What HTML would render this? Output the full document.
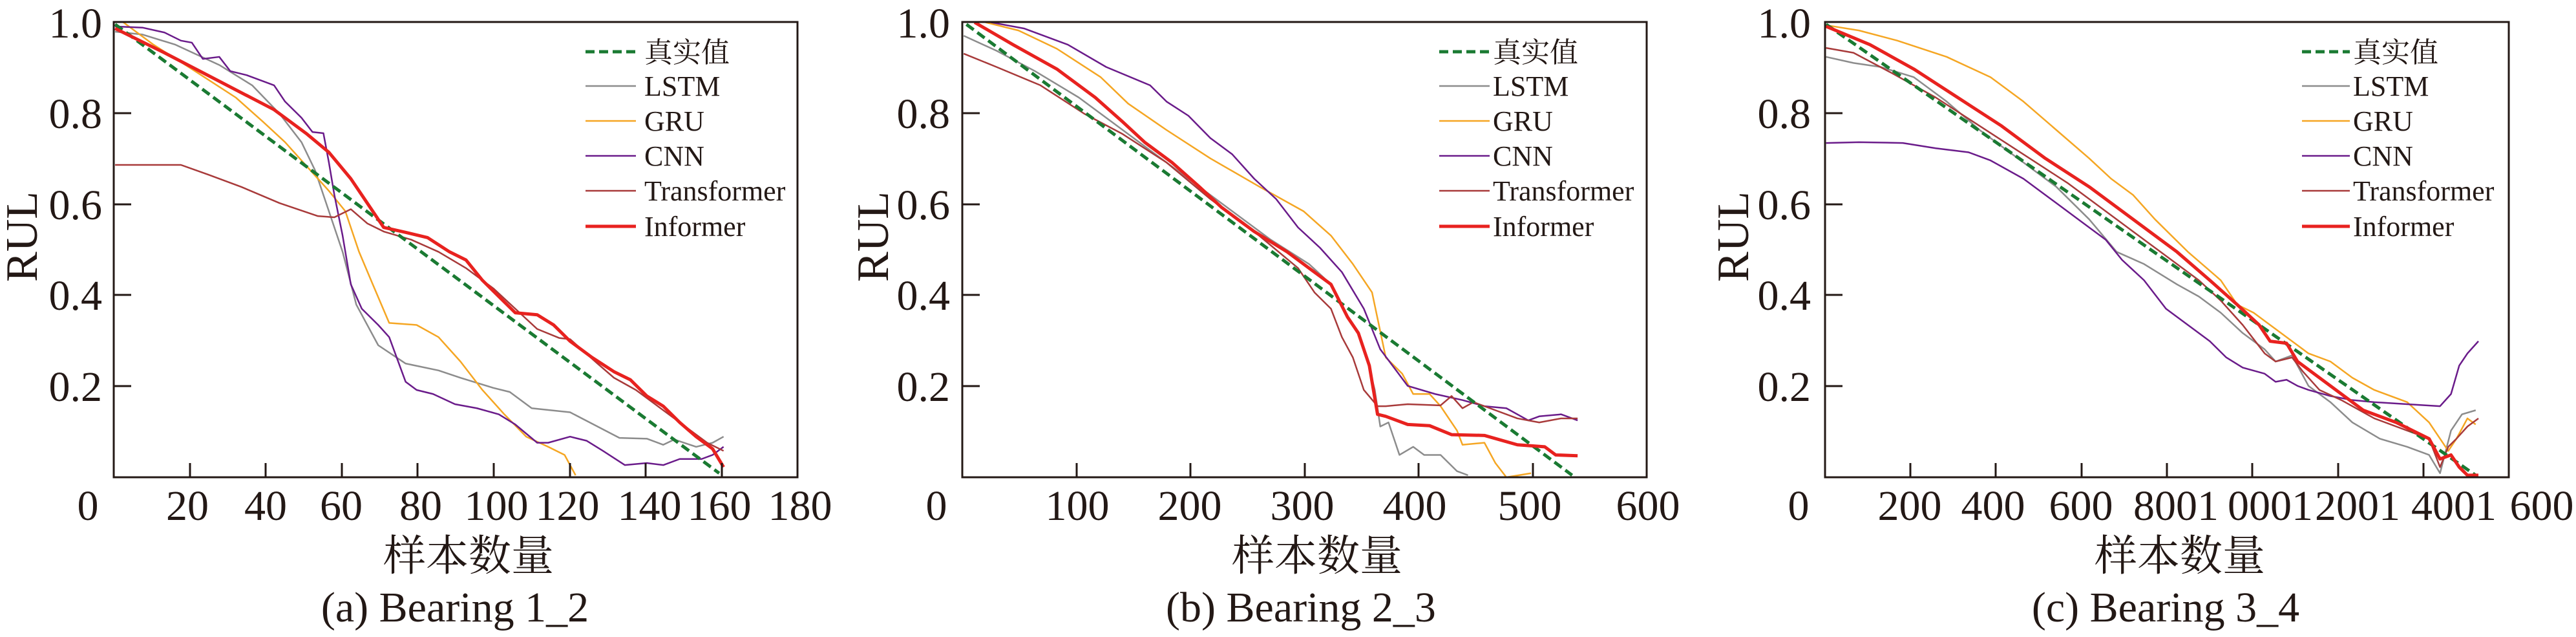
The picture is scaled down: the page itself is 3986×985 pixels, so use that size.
<!DOCTYPE html>
<html><head><meta charset="utf-8"><style>
html,body{margin:0;padding:0;background:#fff;}
svg{display:block;}
text{font-family:"Liberation Serif","Noto Serif CJK SC","Noto Sans CJK SC",serif;fill:#231815;}
.t{font-size:66px;}
.lg{font-size:44px;}
.ln{fill:none;vector-effect:non-scaling-stroke;stroke-linejoin:round;}
.g{stroke:#1a7a32;stroke-width:5;stroke-dasharray:14 7;}
.ls{stroke:#8c8c8c;stroke-width:2.5;}
.gr{stroke:#f5a623;stroke-width:2.5;}
.cn{stroke:#6a1b8a;stroke-width:2.5;}
.tr{stroke:#a83a3a;stroke-width:2.5;}
.inf{stroke:#e8221f;stroke-width:5;}
.ax{fill:none;stroke:#231815;stroke-width:3;}
</style></head><body>
<svg width="3986" height="985" viewBox="0 0 3986 985" xmlns="http://www.w3.org/2000/svg">

<!-- Panel A -->
<g transform="translate(0,0) scale(0.8482,0.6281)">
<polyline class="ln ls" points="210,78 260,85 320,110 400,160 460,210 510,280 550,350 575,420 600,520 625,620 650,750 690,850 740,895 800,912 840,930 900,955 930,965 970,1005 1040,1015 1090,1050 1130,1078 1180,1080 1210,1095 1230,1082 1270,1100 1300,1090 1320,1075"/>
<polyline class="ln gr" points="225,55 280,110 350,170 430,240 480,300 520,350 560,410 600,470 630,520 655,620 680,700 710,795 760,800 800,830 840,890 880,960 920,1020 960,1075 1000,1100 1030,1120 1050,1170"/>
<polyline class="ln cn" points="210,65 260,68 300,80 330,100 350,105 370,145 400,140 420,175 450,185 500,210 520,250 550,290 570,325 590,328 600,400 610,480 625,580 640,700 660,760 690,800 710,830 740,940 760,960 790,970 830,995 870,1005 910,1020 940,1045 980,1090 1000,1090 1040,1075 1070,1085 1100,1110 1140,1145 1180,1140 1210,1145 1240,1130 1280,1130 1300,1120 1320,1100"/>
<polyline class="ln tr" points="210,406 330,406 380,430 440,460 510,500 580,532 610,535 640,515 670,550 700,570 750,590 800,620 850,660 900,710 940,760 980,810 1020,832 1040,835 1090,895 1120,930 1160,960 1200,1000 1250,1050 1290,1090 1320,1110"/>
<polyline class="ln g" points="210,60 1312,1165"/>
<polyline class="ln inf" points="210,70 300,130 400,200 500,270 560,330 600,375 640,440 670,500 700,560 740,572 780,585 820,620 850,640 880,690 910,730 940,770 980,775 1010,800 1040,840 1080,880 1120,915 1150,935 1180,975 1210,1000 1240,1040 1270,1075 1300,1105 1320,1150"/>
</g>
<rect class="ax" x="176" y="34" width="1058" height="704"/>
<g stroke="#231815" stroke-width="3">
<line x1="176" y1="175" x2="203" y2="175"/><line x1="176" y1="316" x2="203" y2="316"/><line x1="176" y1="456" x2="203" y2="456"/><line x1="176" y1="597" x2="203" y2="597"/>
<line x1="294" y1="738" x2="294" y2="716"/><line x1="411" y1="738" x2="411" y2="716"/><line x1="529" y1="738" x2="529" y2="716"/><line x1="646" y1="738" x2="646" y2="716"/><line x1="764" y1="738" x2="764" y2="716"/><line x1="882" y1="738" x2="882" y2="716"/><line x1="999" y1="738" x2="999" y2="716"/><line x1="1117" y1="738" x2="1117" y2="716"/>
</g>
<g class="t" text-anchor="end"><text x="158" y="58">1.0</text><text x="158" y="198">0.8</text><text x="158" y="339">0.6</text><text x="158" y="479">0.4</text><text x="158" y="620">0.2</text></g>
<g class="t" text-anchor="middle"><text x="136" y="804">0</text><text x="290" y="804">20</text><text x="411" y="804">40</text><text x="528" y="804">60</text><text x="651" y="804">80</text><text x="768" y="804">100</text><text x="878" y="804">120</text><text x="1005" y="804">140</text><text x="1113" y="804">160</text><text x="1238" y="804">180</text>
<text x="725" y="882">样本数量</text><text x="704" y="961">(a) Bearing 1_2</text></g>
<text class="t" text-anchor="middle" transform="translate(57,366) rotate(-90)" style="font-size:70px">RUL</text>
<g>
<line x1="906" y1="80" x2="984" y2="80" stroke="#1a7a32" stroke-width="5" stroke-dasharray="14 7"/>
<line x1="906" y1="133" x2="984" y2="133" stroke="#8c8c8c" stroke-width="2.5"/>
<line x1="906" y1="187" x2="984" y2="187" stroke="#f5a623" stroke-width="2.5"/>
<line x1="906" y1="241" x2="984" y2="241" stroke="#6a1b8a" stroke-width="2.5"/>
<line x1="906" y1="295" x2="984" y2="295" stroke="#a83a3a" stroke-width="2.5"/>
<line x1="906" y1="350" x2="984" y2="350" stroke="#e8221f" stroke-width="5"/>
<g class="lg"><text x="997" y="96">真实值</text><text x="997" y="148">LSTM</text><text x="997" y="202">GRU</text><text x="997" y="256">CNN</text><text x="997" y="310">Transformer</text><text x="997" y="365">Informer</text></g>
</g>

<!-- Panel B -->
<g transform="translate(1330,0) scale(0.8482,0.6281)">
<polyline class="ln ls" points="190,88 250,125 320,175 400,240 460,300 530,370 600,440 680,520 750,590 820,650 860,700 890,780 910,820 925,880 940,960 950,1050 965,1040 985,1120 1010,1100 1030,1120 1060,1120 1090,1160 1110,1170"/>
<polyline class="ln gr" points="230,55 290,75 360,120 440,190 490,255 560,320 640,390 730,460 810,520 860,580 900,650 935,720 960,880 990,920 1010,970 1040,970 1060,1000 1090,1060 1100,1095 1140,1090 1160,1140 1180,1175 1225,1165"/>
<polyline class="ln cn" points="240,55 300,70 380,110 450,165 530,210 560,250 600,285 640,340 680,380 720,440 760,490 800,560 840,610 880,670 920,760 950,860 1000,950 1050,970 1100,985 1140,1000 1180,1005 1220,1035 1240,1025 1280,1020 1310,1035"/>
<polyline class="ln tr" points="190,132 250,165 330,210 410,280 480,330 560,400 640,490 720,570 800,660 830,720 860,760 880,830 900,880 920,960 945,1000 960,1000 1000,995 1060,998 1080,975 1100,1005 1120,990 1160,1010 1200,1030 1240,1040 1280,1030 1310,1030"/>
<polyline class="ln g" points="195,60 1300,1170"/>
<polyline class="ln inf" points="210,55 280,110 360,170 430,240 480,300 520,350 570,400 620,460 660,510 720,570 780,620 830,670 860,700 890,780 910,820 930,900 945,1020 960,1025 1000,1045 1040,1048 1080,1070 1140,1072 1200,1095 1250,1100 1270,1120 1310,1122"/>
</g>
<rect class="ax" x="1489" y="34" width="1059" height="704"/>
<g stroke="#231815" stroke-width="3">
<line x1="1489" y1="175" x2="1516" y2="175"/><line x1="1489" y1="316" x2="1516" y2="316"/><line x1="1489" y1="456" x2="1516" y2="456"/><line x1="1489" y1="597" x2="1516" y2="597"/>
<line x1="1666" y1="738" x2="1666" y2="716"/><line x1="1842" y1="738" x2="1842" y2="716"/><line x1="2019" y1="738" x2="2019" y2="716"/><line x1="2195" y1="738" x2="2195" y2="716"/><line x1="2372" y1="738" x2="2372" y2="716"/>
</g>
<g class="t" text-anchor="end"><text x="1470" y="58">1.0</text><text x="1470" y="198">0.8</text><text x="1470" y="339">0.6</text><text x="1470" y="479">0.4</text><text x="1470" y="620">0.2</text></g>
<g class="t" text-anchor="middle"><text x="1449" y="804">0</text><text x="1667" y="804">100</text><text x="1841" y="804">200</text><text x="2015" y="804">300</text><text x="2189" y="804">400</text><text x="2367" y="804">500</text><text x="2550" y="804">600</text>
<text x="2038" y="882">样本数量</text><text x="2013" y="961">(b) Bearing 2_3</text></g>
<text class="t" text-anchor="middle" transform="translate(1374,366) rotate(-90)" style="font-size:70px">RUL</text>
<g>
<line x1="2227" y1="80" x2="2305" y2="80" stroke="#1a7a32" stroke-width="5" stroke-dasharray="14 7"/>
<line x1="2227" y1="133" x2="2305" y2="133" stroke="#8c8c8c" stroke-width="2.5"/>
<line x1="2227" y1="187" x2="2305" y2="187" stroke="#f5a623" stroke-width="2.5"/>
<line x1="2227" y1="241" x2="2305" y2="241" stroke="#6a1b8a" stroke-width="2.5"/>
<line x1="2227" y1="295" x2="2305" y2="295" stroke="#a83a3a" stroke-width="2.5"/>
<line x1="2227" y1="350" x2="2305" y2="350" stroke="#e8221f" stroke-width="5"/>
<g class="lg"><text x="2310" y="96">真实值</text><text x="2310" y="148">LSTM</text><text x="2310" y="202">GRU</text><text x="2310" y="256">CNN</text><text x="2310" y="310">Transformer</text><text x="2310" y="365">Informer</text></g>
</g>

<!-- Panel C -->
<g transform="translate(2656,0) scale(0.8482,0.6281)">
<polyline class="ln ls" points="200,140 250,155 300,165 360,190 420,250 480,320 560,400 620,460 680,540 730,620 780,650 840,700 880,730 920,770 960,820 1000,860 1020,890 1050,875 1080,950 1120,990 1160,1040 1210,1080 1260,1100 1300,1120 1320,1165 1340,1060 1360,1020 1385,1010"/>
<polyline class="ln gr" points="200,62 260,75 330,100 420,140 500,190 560,250 620,320 680,390 720,440 760,480 800,540 860,620 920,690 950,750 980,770 1010,800 1050,840 1080,870 1120,890 1160,930 1200,960 1260,990 1300,1040 1320,1080 1335,1110 1350,1080 1370,1030 1385,1045"/>
<polyline class="ln cn" points="200,352 260,350 340,352 400,365 460,375 500,395 560,440 620,500 670,550 710,590 740,640 780,690 820,760 860,800 900,840 930,880 960,905 1000,920 1020,940 1040,935 1060,950 1080,960 1120,975 1160,985 1200,990 1260,995 1320,1000 1340,970 1355,900 1370,870 1390,840"/>
<polyline class="ln tr" points="200,118 250,130 320,180 400,240 480,310 560,380 640,450 720,530 800,610 880,690 920,740 960,800 1000,870 1020,890 1050,880 1070,915 1100,960 1140,985 1200,1030 1260,1060 1300,1080 1320,1150 1335,1100 1350,1080 1370,1050 1390,1030"/>
<polyline class="ln g" points="200,60 1385,1170"/>
<polyline class="ln inf" points="200,65 280,110 360,170 440,240 520,310 600,390 680,460 760,540 840,620 900,690 950,750 990,800 1010,840 1040,845 1060,890 1100,930 1140,970 1180,1010 1240,1040 1300,1080 1320,1130 1340,1120 1355,1150 1370,1170 1390,1170"/>
</g>
<rect class="ax" x="2824" y="34" width="1058" height="704"/>
<g stroke="#231815" stroke-width="3">
<line x1="2824" y1="175" x2="2851" y2="175"/><line x1="2824" y1="316" x2="2851" y2="316"/><line x1="2824" y1="456" x2="2851" y2="456"/><line x1="2824" y1="597" x2="2851" y2="597"/>
<line x1="2956" y1="738" x2="2956" y2="716"/><line x1="3088" y1="738" x2="3088" y2="716"/><line x1="3221" y1="738" x2="3221" y2="716"/><line x1="3353" y1="738" x2="3353" y2="716"/><line x1="3485" y1="738" x2="3485" y2="716"/><line x1="3618" y1="738" x2="3618" y2="716"/><line x1="3750" y1="738" x2="3750" y2="716"/>
</g>
<g class="t" text-anchor="end"><text x="2802" y="58">1.0</text><text x="2802" y="198">0.8</text><text x="2802" y="339">0.6</text><text x="2802" y="479">0.4</text><text x="2802" y="620">0.2</text></g>
<g class="t" text-anchor="middle"><text x="2783" y="804">0</text><text x="2955" y="804">200</text><text x="3084" y="804">400</text><text x="3220" y="804">600</text><text x="3367" y="804">8001</text><text x="3513" y="804">0001</text><text x="3648" y="804">2001</text><text x="3797" y="804">4001</text><text x="3933" y="804">600</text>
<text x="3373" y="882">样本数量</text><text x="3351" y="961">(c) Bearing 3_4</text></g>
<text class="t" text-anchor="middle" transform="translate(2705,366) rotate(-90)" style="font-size:70px">RUL</text>
<g>
<line x1="3562" y1="80" x2="3636" y2="80" stroke="#1a7a32" stroke-width="5" stroke-dasharray="14 7"/>
<line x1="3562" y1="133" x2="3636" y2="133" stroke="#8c8c8c" stroke-width="2.5"/>
<line x1="3562" y1="187" x2="3636" y2="187" stroke="#f5a623" stroke-width="2.5"/>
<line x1="3562" y1="241" x2="3636" y2="241" stroke="#6a1b8a" stroke-width="2.5"/>
<line x1="3562" y1="295" x2="3636" y2="295" stroke="#a83a3a" stroke-width="2.5"/>
<line x1="3562" y1="350" x2="3636" y2="350" stroke="#e8221f" stroke-width="5"/>
<g class="lg"><text x="3641" y="96">真实值</text><text x="3641" y="148">LSTM</text><text x="3641" y="202">GRU</text><text x="3641" y="256">CNN</text><text x="3641" y="310">Transformer</text><text x="3641" y="365">Informer</text></g>
</g>
</svg>
</body></html>
